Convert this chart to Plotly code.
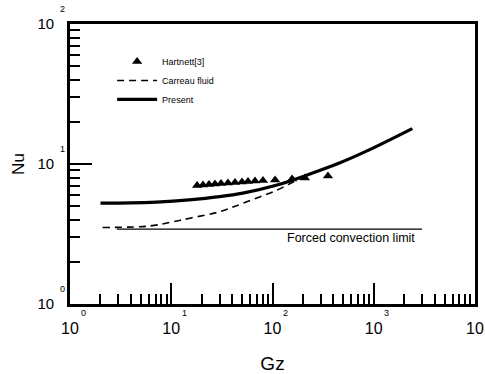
import math
import plotly.graph_objects as go

# ---- data ----
gz_hartnett = [18.0, 20.6, 23.6, 27.0, 31.0, 36.3, 42.6, 50.0, 57.3, 67.2, 80.5, 106, 156, 209, 353]
nu_hartnett = [7.02, 7.08, 7.14, 7.20, 7.26, 7.32, 7.38, 7.44, 7.50, 7.56, 7.62, 7.69, 7.81, 7.94, 8.2]

gz_carreau = [2.1, 6.2, 10.4, 15.3, 30, 51, 111, 167, 234, 464, 857, 2400]
nu_carreau = [3.52, 3.61, 3.87, 4.10, 4.56, 5.24, 6.52, 7.56, 8.48, 10.2, 12.4, 17.9]

gz_present = [2.0, 4.0, 7.2, 15, 30, 51, 111, 234, 464, 857, 2400]
nu_present = [5.25, 5.27, 5.35, 5.55, 5.85, 6.2, 7.08, 8.48, 10.2, 12.4, 17.9]

gz_limit = [2.9, 3000]
nu_limit = [3.43, 3.43]
limit_label = "Forced convection limit"

x_exponents = [0, 1, 2, 3, 4]
y_exponents = [0, 1, 2]
tick_base = "10"

FONT = "Liberation Sans"
PLOT_W = 405
PLOT_H = 280

fig = go.Figure()
fig.add_trace(go.Scatter(x=gz_limit, y=nu_limit, mode="lines", showlegend=False,
                         line=dict(color="black", width=1.2)))
fig.add_trace(go.Scatter(x=gz_carreau, y=nu_carreau, mode="lines", name="Carreau fluid",
                         legendrank=2, line=dict(color="black", width=1.6, dash="7px,5px", shape="spline")))
fig.add_trace(go.Scatter(x=gz_present, y=nu_present, mode="lines", name="Present",
                         legendrank=3, line=dict(color="black", width=3.2, shape="spline")))
fig.add_trace(go.Scatter(x=gz_hartnett, y=nu_hartnett, mode="markers", name="Hartnett[3]",
                         legendrank=1, marker=dict(symbol="triangle-up", size=9, color="black")))

minor_x = [m * 10 ** k for k in range(4) for m in range(2, 10)]
minor_y = [m * 10 ** k for k in range(2) for m in range(2, 10)]

axis_common = dict(type="log", showgrid=False, zeroline=False, showline=True, linewidth=2.6,
                   linecolor="black", mirror=True, ticks="inside", tickwidth=2, tickcolor="black",
                   tickmode="array", automargin=False)

fig.update_xaxes(**axis_common, range=[0, 4], ticklen=21,
                 tickvals=[10 ** e for e in x_exponents], ticktext=[tick_base] * len(x_exponents),
                 tickfont=dict(family=FONT, size=16, color="black"), ticklabelstandoff=8,
                 minor=dict(ticks="inside", ticklen=10, tickwidth=2, tickcolor="black",
                            tickmode="array", tickvals=minor_x),
                 title=dict(text="Gz", font=dict(family=FONT, size=19, color="black"), standoff=21))
fig.update_yaxes(**axis_common, range=[0, 2], ticklen=22,
                 tickvals=[10 ** e for e in y_exponents], ticktext=[tick_base] * len(y_exponents),
                 tickfont=dict(family=FONT, size=15, color="black"), ticklabelstandoff=10,
                 minor=dict(ticks="inside", ticklen=10, tickwidth=2, tickcolor="black",
                            tickmode="array", tickvals=minor_y),
                 title=dict(text="Nu", font=dict(family=FONT, size=17, color="black"), standoff=9))

annotations = []
for e in x_exponents:
    annotations.append(dict(x=e, y=0, xref="x", yref="paper", text=str(e), showarrow=False,
                            xanchor="center", yanchor="middle",
                            xshift=13, yshift=-9, font=dict(family=FONT, size=9, color="black")))
for e in y_exponents:
    annotations.append(dict(x=-8 / PLOT_W, y=e / 2, xref="paper", yref="paper", text=str(e),
                            showarrow=False, xanchor="center", yanchor="middle",
                            yshift=15, font=dict(family=FONT, size=9, color="black")))
annotations.append(dict(x=math.log10(gz_limit[1]), y=math.log10(nu_limit[0]), xref="x", yref="y",
                        text=limit_label, showarrow=False, xanchor="right", yanchor="top",
                        xshift=-5, yshift=0, font=dict(family=FONT, size=12.5, color="black")))

fig.update_layout(width=485, height=374, margin=dict(l=70, r=10, t=24, b=70),
                  paper_bgcolor="white", plot_bgcolor="white",
                  annotations=annotations,
                  legend=dict(x=0.104, y=0.918, xanchor="left", yanchor="top", itemwidth=40,
                              bgcolor="rgba(0,0,0,0)", tracegroupgap=0,
                              font=dict(family=FONT, size=9, color="black")))

fig.write_html("out.html", config={"displayModeBar": False},
               post_script="document.body.style.margin='0';")
